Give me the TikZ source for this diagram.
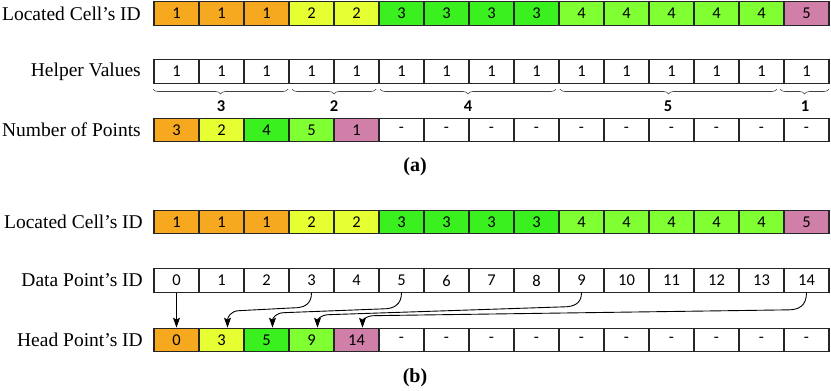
\documentclass[tikz,border=0pt]{standalone}
\usepackage{fontspec}
\setmainfont{Liberation Serif}
\newfontfamily\cellfont{Carlito}
\usetikzlibrary{arrows.meta,decorations.pathreplacing}

\definecolor{id1}{RGB}{246,168,30}
\definecolor{id2}{RGB}{229,255,51}
\definecolor{id3}{RGB}{58,240,30}
\definecolor{id4}{RGB}{128,255,51}
\definecolor{id5}{RGB}{208,128,168}

\begin{document}
\begin{tikzpicture}[
    x=1pt, y=-1pt,
    cell/.style={draw=black!85, line width=1.2pt, minimum width=45pt, minimum height=23.5pt, inner sep=0pt, fill=white, font=\cellfont\fontsize{16.5}{18}\selectfont},
    rowlabel/.style={anchor=east, inner sep=0pt, font=\fontsize{19.5}{22}\selectfont},
    bracelabel/.style={font=\cellfont\bfseries\fontsize{16.5}{18}\selectfont},
    caption/.style={font=\bfseries\fontsize{20}{22}\selectfont},
    brace/.style={decorate, decoration={brace, mirror, amplitude=5pt}, draw=black!75, line width=0.6pt},
    link/.style={-{Stealth[length=10pt, width=7pt, inset=2pt]}, line width=0.9pt},
]
    \useasboundingbox (0,0) rectangle (831,391);

    % (a) Row 1: located cell ids
    \node[rowlabel] (lab-loca) at (141, 13.5) {Located Cell’s ID};
    \foreach \v [count=\i] in {1,1,1,2,2,3,3,3,3,4,4,4,4,4,5}
        \node[cell, fill=id\v] (loca-\i) at ({154+45*(\i-0.5)}, 13.5) {\v};

    % (a) Row 2: helper values
    \node[rowlabel] (lab-help) at (141, 71.5) {Helper Values};
    \foreach \i in {1,...,15}
        \node[cell] (help-\i) at ({154+45*(\i-0.5)}, 71.5) {1};

    % braces summing the helper values per cell
    \draw[brace] (153,89) -- (288,89);
    \draw[brace] (292,89) -- (376,89);
    \draw[brace] (380,89) -- (556,89);
    \draw[brace] (560,89) -- (777,89);
    \draw[brace] (780,89) -- (829,89);
    \node[bracelabel] (brc-1) at (221, 106) {3};
    \node[bracelabel] (brc-2) at (334, 106) {2};
    \node[bracelabel] (brc-3) at (468, 106) {4};
    \node[bracelabel] (brc-4) at (668, 106) {5};
    \node[bracelabel] (brc-5) at (805, 106) {1};

    % (a) Row 3: number of points
    \node[rowlabel] (lab-num) at (141, 130) {Number of Points};
    \foreach \v/\c [count=\i] in {3/id1,2/id2,4/id3,5/id4,1/id5,-/white,-/white,-/white,-/white,-/white,-/white,-/white,-/white,-/white,-/white}
        \node[cell, fill=\c] (num-\i) at ({154+45*(\i-0.5)}, 130) {\v};

    \node[caption] (cap-a) at (415, 167) {(a)};

    % (b) Row 1: located cell ids
    \node[rowlabel] (lab-locb) at (143, 222) {Located Cell’s ID};
    \foreach \v [count=\i] in {1,1,1,2,2,3,3,3,3,4,4,4,4,4,5}
        \node[cell, fill=id\v] (locb-\i) at ({154+45*(\i-0.5)}, 222) {\v};

    % (b) Row 2: data point ids
    \node[rowlabel] (lab-pid) at (143, 280.5) {Data Point’s ID};
    \foreach \v [count=\i] in {0,...,14}
        \node[cell] (pid-\i) at ({154+45*(\i-0.5)}, 280.5) {\v};

    % (b) Row 3: head point ids
    \node[rowlabel] (lab-head) at (143, 340) {Head Point’s ID};
    \foreach \v/\c [count=\i] in {0/id1,3/id2,5/id3,9/id4,14/id5,-/white,-/white,-/white,-/white,-/white,-/white,-/white,-/white,-/white,-/white}
        \node[cell, fill=\c] (head-\i) at ({154+45*(\i-0.5)}, 340) {\v};

    \node[caption] (cap-b) at (415, 378) {(b)};

    % Arrows: data point id -> head point id
    \draw[link] (pid-1.south) -- (head-1.north);
    \draw[link] (pid-4.south) .. controls +(0,12) and +(10,0) .. ++(-18,15)
        -- ([xshift=18pt, yshift=17pt]head-2.north) .. controls +(-9,0) and +(0,-10) .. ([xshift=6pt]head-2.north);
    \draw[link] (pid-6.south) .. controls +(0,12) and +(10,0) .. ++(-18,16)
        -- ([xshift=18pt, yshift=15pt]head-3.north) .. controls +(-9,0) and +(0,-9) .. ([xshift=6pt]head-3.north);
    \draw[link] (pid-10.south) .. controls +(0,11) and +(10,0) .. ++(-18,14)
        -- ([xshift=18pt, yshift=13pt]head-4.north) .. controls +(-9,0) and +(0,-8) .. ([xshift=6pt]head-4.north);
    \draw[link] (pid-15.south) .. controls +(0,13) and +(10,0) .. ++(-18,17)
        -- ([xshift=18pt, yshift=12pt]head-5.north) .. controls +(-9,0) and +(0,-7) .. ([xshift=6pt]head-5.north);
\end{tikzpicture}
\end{document}
